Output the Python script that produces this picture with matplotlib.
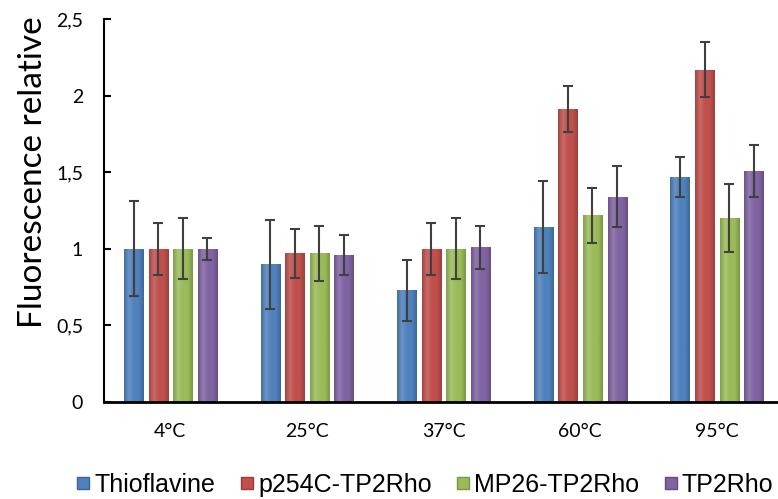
import numpy as np
import matplotlib
matplotlib.use("Agg")
from matplotlib import pyplot as plt
from matplotlib.lines import Line2D
from matplotlib.colors import LinearSegmentedColormap, to_rgb


# Relative fluorescence vs temperature, four probes

temperatures = ["4°C", "25°C", "37°C", "60°C", "95°C"]
series = ["Thioflavine", "p254C-TP2Rho", "MP26-TP2Rho", "TP2Rho"]

thioflavine = [1.00, 0.90, 0.73, 1.14, 1.47]
thioflavine_err = [0.31, 0.29, 0.20, 0.30, 0.13]
p254c = [1.00, 0.97, 1.00, 1.91, 2.17]
p254c_err = [0.17, 0.16, 0.17, 0.15, 0.18]
mp26 = [1.00, 0.97, 1.00, 1.22, 1.20]
mp26_err = [0.20, 0.18, 0.20, 0.18, 0.22]
tp2rho = [1.00, 0.96, 1.01, 1.34, 1.51]
tp2rho_err = [0.07, 0.13, 0.14, 0.20, 0.17]

ytick_values = [0, 0.5, 1, 1.5, 2, 2.5]
ytick_labels = ["0", "0,5", "1", "1,5", "2", "2,5"]

colors = ["#4F81BD", "#C0504D", "#9BBB59", "#8064A2"]
edges = ["#3A6596", "#9B3B39", "#7A9640", "#624C80"]


def shade(c, f):
    # f < 1 darkens, f > 1 lightens towards white
    r = np.array(to_rgb(c))
    if f < 1:
        return tuple(r * f)
    return tuple(r + (1 - r) * (f - 1))


def main():
    values = [thioflavine, p254c, mp26, tp2rho]
    errors = [thioflavine_err, p254c_err, mp26_err, tp2rho_err]

    fig = plt.figure(figsize=(7.78, 4.99), dpi=100)
    ax = fig.add_axes([0.1337, 0.1944, 0.8663, 0.7675])

    x = np.arange(len(temperatures))
    step = 0.18
    width = 0.14
    grad = np.linspace(0, 1, 64).reshape(1, -1)
    for i in range(len(series)):
        pos = x + (i - 1.5) * step
        bars = ax.bar(pos, values[i], width=width, color=colors[i],
                      edgecolor=edges[i], linewidth=0.6, zorder=2)
        cmap = LinearSegmentedColormap.from_list(
            "b%d" % i, [shade(colors[i], 0.85), shade(colors[i], 1.15),
                        colors[i], colors[i], shade(colors[i], 0.8)])
        for b in bars:
            im = ax.imshow(grad, cmap=cmap, aspect="auto", zorder=2.1,
                           extent=[b.get_x(), b.get_x() + b.get_width(), 0, b.get_height()])
            im.set_clip_path(b)
        ax.errorbar(pos, values[i], yerr=errors[i], fmt="none", ecolor="#404040",
                    elinewidth=1.5, capsize=3.6, capthick=1.5, zorder=3)

    ax.set_xlim(-0.486, 4.448)
    ax.set_ylim(0, 2.5)
    ax.set_xticks(x)
    ax.set_xticklabels(temperatures, family="Lato", fontsize=14)
    ax.set_yticks(ytick_values)
    ax.set_yticklabels(ytick_labels, family="Lato", fontsize=14)
    ax.tick_params(axis="x", length=0, pad=15)
    ax.tick_params(axis="y", direction="in", length=5, width=1.5, pad=15)

    for s in ["top", "right"]:
        ax.spines[s].set_visible(False)
    ax.spines["left"].set_linewidth(1.5)
    ax.spines["bottom"].set_linewidth(2)

    ax.set_ylabel("Fluorescence relative", family="Lato", fontsize=24)
    ax.yaxis.set_label_coords(-0.083, 0.6)

    # legend at the bottom, square markers
    handles = [Line2D([], [], marker="s", linestyle="none", markersize=9,
                      markerfacecolor=colors[i], markeredgecolor=edges[i])
               for i in range(len(series))]
    fig.legend(handles, series, loc="center", bbox_to_anchor=(0.545, 0.028),
               ncol=4, frameon=False, handlelength=0.7, handletextpad=0.1,
               columnspacing=0.9, borderpad=0, borderaxespad=0,
               prop={"family": "Liberation Sans", "size": 18})

    fig.savefig("out.png", dpi=100)


if __name__ == "__main__":
    main()
